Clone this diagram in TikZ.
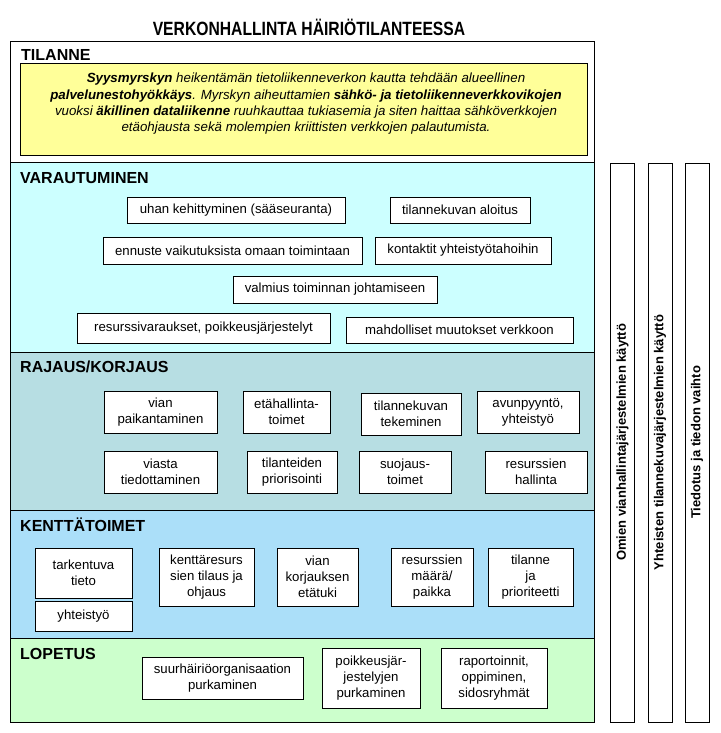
\documentclass[tikz,border=0pt]{standalone}
\usepackage{fontspec}
\setmainfont{Liberation Sans}
\definecolor{varc}{HTML}{CCFFFF}
\definecolor{rajc}{HTML}{B7DEE3}
\definecolor{kentc}{HTML}{ABDFF9}
\definecolor{lopc}{HTML}{CCFFCC}
\definecolor{yelc}{HTML}{FFFF99}
\newcommand\bx[6]{\node[box, minimum width={(#4-#2)*1pt}, minimum height={(#5-#3)*1pt}] (#1) at ({(#2+#4)/2},{(#3+#5)/2}) {#6};}
\begin{document}
\begin{tikzpicture}[x=1pt,y=-1pt,
  frame/.style={draw=black, line width=1pt},
  box/.style={draw=black, line width=0.9pt, fill=white, inner sep=0pt, align=center, font=\fontsize{13.2}{16}\selectfont},
  head/.style={anchor=base west, inner sep=0pt, font=\fontsize{16}{18}\selectfont\bfseries},
  col/.style={draw=black, line width=1pt, fill=white, rotate=90, inner sep=0pt, minimum width=559pt, minimum height=24pt, font=\fontsize{13}{15}\selectfont\bfseries}]
\useasboundingbox (0,0) rectangle (720,733);
% title
\node[inner sep=0pt, font=\fontsize{16}{18}\selectfont\bfseries] (title) at (309,27) {\scalebox{0.98}[1.2]{VERKONHALLINTA HÄIRIÖTILANTEESSA}};
% section bands
\fill[white] (10,42) rectangle (594,162);
\fill[varc] (10,162) rectangle (594,352);
\fill[rajc] (10,352) rectangle (594,510);
\fill[kentc] (10,510) rectangle (594,638);
\fill[lopc] (10,638) rectangle (594,722);
\draw[frame] (10,162) -- (594,162);
\draw[frame] (10,352) -- (594,352);
\draw[frame] (10,510) -- (594,510);
\draw[frame] (10,638) -- (594,638);
\draw[frame] (10,42) rectangle (594,722);
% headings
\node[head] (hTil) at (21,61) {TILANNE};
\node[head] (hVar) at (20,183) {VARAUTUMINEN};
\node[head] (hRaj) at (20,372) {RAJAUS/KORJAUS};
\node[head] (hKen) at (20,531) {KENTTÄTOIMET};
\node[head] (hLop) at (20,659) {LOPETUS};
% situation box
\node[draw=black, line width=1pt, fill=yelc, minimum width=567pt, minimum height=91pt, inner sep=0pt] (sit) at (303.5,109.5) {};
\node[anchor=north, inner sep=0pt, align=center, font=\fontsize{13.3}{16.3}\selectfont\itshape] (sittext) at (306,73)
{\textbf{Syysmyrskyn} heikentämän tietoliikenneverkon kautta tehdään alueellinen\\
\textbf{palvelunestohyökkäys}. Myrskyn aiheuttamien \textbf{sähkö- ja tietoliikenneverkkovikojen}\\
vuoksi \textbf{äkillinen dataliikenne} ruuhkauttaa tukiasemia ja siten haittaa sähköverkkojen\\
etäohjausta sekä molempien kriittisten verkkojen palautumista.};
% VARAUTUMINEN
\bx{v1}{127}{197}{345}{223}{uhan kehittyminen (sääseuranta)}
\bx{v2}{390}{197}{530}{223}{tilannekuvan aloitus}
\bx{v3}{103}{237}{362}{264}{ennuste vaikutuksista omaan toimintaan}
\bx{v4}{375}{237}{551}{264}{kontaktit yhteistyötahoihin}
\bx{v5}{233}{276}{437}{303}{valmius toiminnan johtamiseen}
\bx{v6}{77}{313}{330}{343}{resurssivaraukset, poikkeusjärjestelyt}
\bx{v7}{346}{317}{573}{343}{mahdolliset muutokset verkkoon}
% RAJAUS/KORJAUS
\bx{r1}{104}{391}{217}{433}{vian\\paikantaminen}
\bx{r2}{243}{391}{330}{433}{etähallinta-\\toimet}
\bx{r3}{361}{393}{461}{435}{tilannekuvan\\tekeminen}
\bx{r4}{477}{391}{579}{433}{avunpyyntö,\\yhteistyö}
\bx{r5}{104}{451}{217}{493}{viasta\\tiedottaminen}
\bx{r6}{247}{451}{337}{493}{tilanteiden\\priorisointi}
\bx{r7}{359}{451}{451}{493}{suojaus-\\toimet}
\bx{r8}{485}{451}{587}{493}{resurssien\\hallinta}
% KENTTÄTOIMET
\bx{k1}{35}{548}{132}{598}{tarkentuva\\tieto}
\bx{k2}{35}{601}{132}{631}{yhteistyö}
\bx{k3}{159}{548}{254}{606}{kenttäresurs\\sien tilaus ja\\ohjaus}
\bx{k4}{277}{548}{358}{606}{vian\\korjauksen\\etätuki}
\bx{k5}{391}{548}{473}{606}{resurssien\\määrä/\\paikka}
\bx{k6}{488}{548}{573}{606}{tilanne\\ja\\prioriteetti}
% LOPETUS
\bx{l1}{142}{657}{303}{699}{suurhäiriöorganisaation\\purkaminen}
\bx{l2}{322}{648}{420}{708}{poikkeusjär-\\jestelyjen\\purkaminen}
\bx{l3}{441}{648}{547}{708}{raportoinnit,\\oppiminen,\\sidosryhmät}
% columns
\node[col] (c1) at (622.5,442.5) {Omien vianhallintajärjestelmien käyttö};
\node[col] (c2) at (660,442.5) {Yhteisten tilannekuvajärjestelmien käyttö};
\node[col] (c3) at (697,442.5) {Tiedotus ja tiedon vaihto};
\end{tikzpicture}
\end{document}
